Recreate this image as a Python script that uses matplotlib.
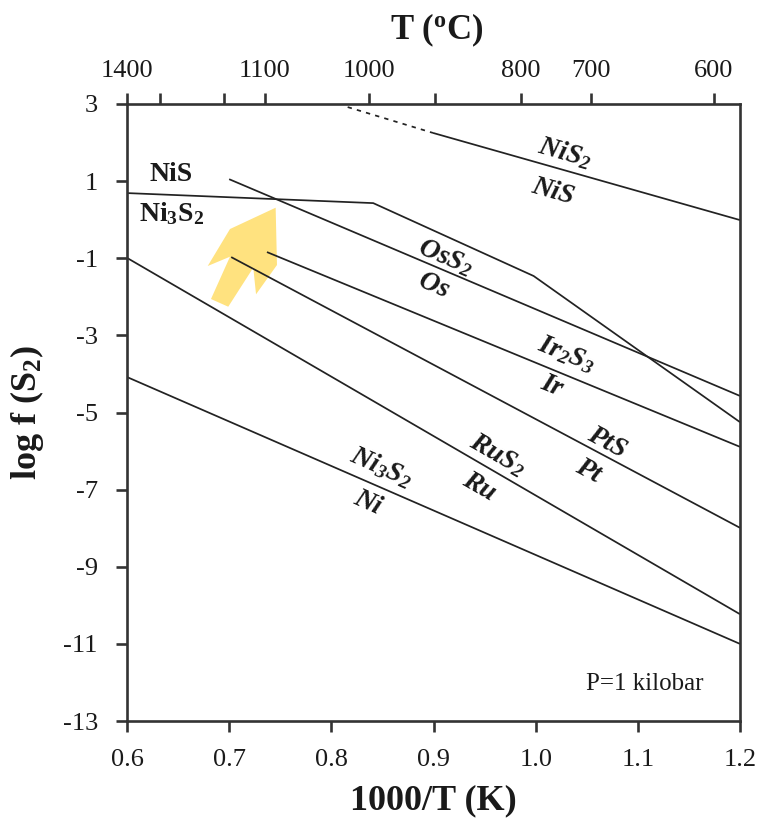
import matplotlib
matplotlib.use("Agg")
import matplotlib.pyplot as plt
from matplotlib.patches import Polygon

plt.rcParams['font.family'] = ['Liberation Serif', 'DejaVu Serif']
plt.rcParams['mathtext.default'] = 'regular'

# ---------------- data ----------------
x_ticks = [0.6, 0.7, 0.8, 0.9, 1.0, 1.1, 1.2]
x_ticklabels = ['0.6', '0.7', '0.8', '0.9', '1.0', '1.1', '1.2']
y_ticks = [3, 1, -1, -3, -5, -7, -9, -11, -13]
top_ticks = [0.600, 0.6323, 0.6950, 0.7351, 0.8369, 0.9010, 0.9857, 1.0542, 1.1746]
top_ticklabels = ['1400', '', '', '1100', '1000', '', '800', '700', '600']

nis2_dot_x = [0.816, 0.8995]
nis2_dot_y = [2.92, 2.25]
nis2_x = [0.8995, 1.2]
nis2_y = [2.25, -0.01]
nis_x = [0.6, 0.841, 0.998, 1.2]
nis_y = [0.69, 0.43, -1.46, -5.25]
os_x = [0.70, 1.2]
os_y = [1.05, -4.57]
ir_x = [0.737, 1.2]
ir_y = [-0.84, -5.89]
pt_x = [0.702, 1.2]
pt_y = [-0.97, -7.99]
ru_x = [0.6, 1.2]
ru_y = [-0.99, -10.23]
ni_x = [0.6, 1.2]
ni_y = [-4.08, -11.0]

arrow_x = [0.7455, 0.7008, 0.6790, 0.7008, 0.6822, 0.6991, 0.7236, 0.7263, 0.7468]
arrow_y = [0.311, -0.242, -1.201, -0.960, -2.057, -2.257, -1.245, -1.935, -1.175]

# label: (text, x, y, rotation, italic)
labels = [
    ('NiS$_2$', 1.0287, 1.73, -16, True),
    ('NiS', 1.017, 0.72, -16, True),
    ('OsS$_2$', 0.9122, -0.97, -23, True),
    ('Os', 0.9005, -1.72, -23, True),
    ('Ir$_2$S$_3$', 1.0297, -3.48, -22, True),
    ('Ir', 1.016, -4.31, -22, True),
    ('PtS', 1.0698, -5.77, -28, True),
    ('Pt', 1.0512, -6.52, -28, True),
    ('RuS$_2$', 0.9631, -6.10, -30, True),
    ('Ru', 0.9445, -6.93, -30, True),
    ('Ni$_3$S$_2$', 0.8486, -6.41, -24, True),
    ('Ni', 0.8359, -7.35, -24, True),
    ('NiS', 0.6431, 1.16, 0, False),
    ('Ni$_3$S$_2$', 0.644, 0.15, 0, False),
]

# ---------------- figure ----------------
fig = plt.figure(figsize=(7.6, 8.3), dpi=100)
ax = fig.add_axes([0.1671, 0.1313, 0.8066, 0.7434])
ax.set_xlim(0.6, 1.2)
ax.set_ylim(-13, 3)

spine_c = '#333333'
line_c = '#222222'
for s in ax.spines.values():
    s.set_linewidth(1.9)
    s.set_color(spine_c)

ax.add_patch(Polygon(list(zip(arrow_x, arrow_y)), closed=True,
                     facecolor='#FFE27F', edgecolor='none', zorder=1))

lw = 1.25
ax.plot(nis2_dot_x, nis2_dot_y, color=line_c, lw=lw, ls=(0, (2.5, 3)), zorder=2)
for xs, ys in [(nis2_x, nis2_y), (nis_x, nis_y), (os_x, os_y), (ir_x, ir_y),
               (pt_x, pt_y), (ru_x, ru_y), (ni_x, ni_y)]:
    ax.plot(xs, ys, color=line_c, lw=lw, zorder=2, solid_capstyle='butt')

for txt, x, y, rot, it in labels:
    ax.text(x, y, txt, rotation=rot, rotation_mode='anchor', ha='center', va='center',
            fontsize=20, fontweight='bold', fontstyle='italic' if it else 'normal',
            color='#1a1a1a', zorder=3)

ax.text(1.107, -12.04, 'P=1 kilobar', ha='center', va='center', fontsize=18, color='#1a1a1a')

ax.set_xticks(x_ticks)
ax.set_xticklabels(x_ticklabels)
ax.set_yticks(y_ticks)
ax.set_yticklabels([str(v) for v in y_ticks])
ax.tick_params(axis='x', direction='out', length=8, width=1.9, color=spine_c,
               labelsize=19, pad=12, labelcolor='#1a1a1a')
ax.tick_params(axis='y', direction='out', length=8, width=1.9, color=spine_c,
               labelsize=19, pad=13, labelcolor='#1a1a1a')

ax2 = ax.twiny()
ax2.set_xlim(ax.get_xlim())
ax2.set_xticks(top_ticks)
ax2.set_xticklabels(top_ticklabels)
ax2.tick_params(axis='x', direction='out', length=8, width=1.9, color=spine_c,
                labelsize=19, pad=8, labelcolor='#1a1a1a')
for s in ax2.spines.values():
    s.set_visible(False)

ax.set_xlabel('1000/T (K)', fontsize=26, fontweight='bold', labelpad=10, color='#1a1a1a')
ax.set_ylabel('log f (S$_2$)', fontsize=26, fontweight='bold', labelpad=12, color='#1a1a1a')
fig.text(0.5755, 0.963, 'T ($^{o}$C)', ha='center', va='center', fontsize=25,
         fontweight='bold', color='#1a1a1a')

fig.savefig('out.png', dpi=100)
